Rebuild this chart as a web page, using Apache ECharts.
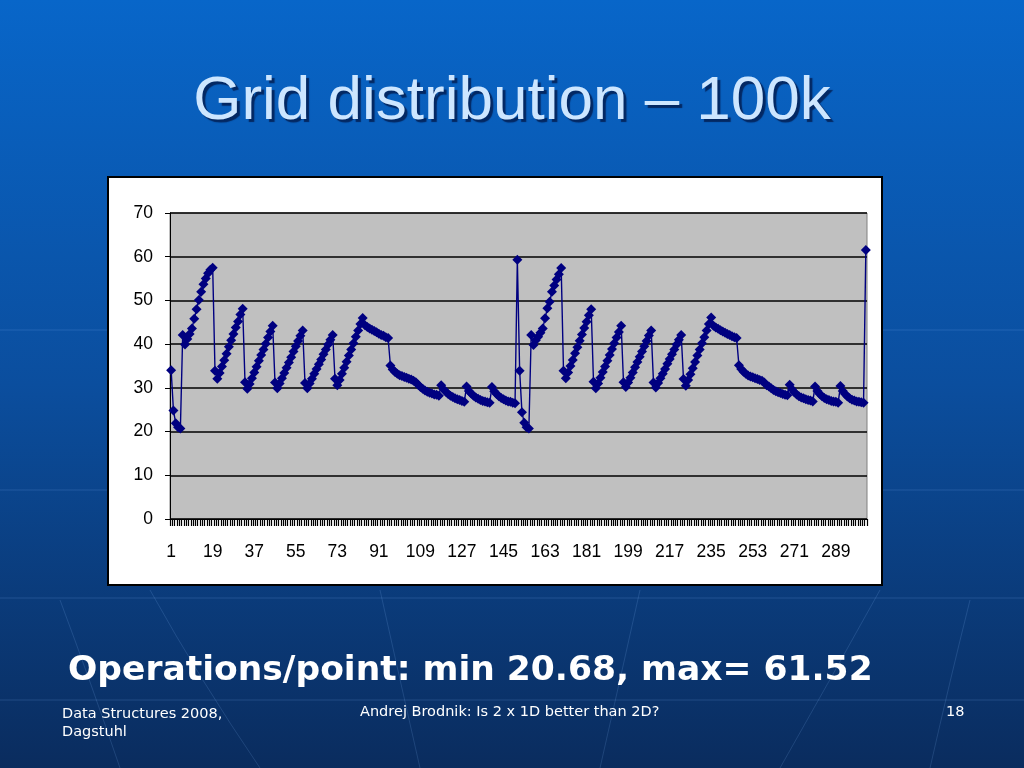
<!DOCTYPE html>
<html>
<head>
<meta charset="utf-8">
<script src="https://cdn.jsdelivr.net/npm/echarts@6/dist/echarts.min.js"></script>
<style>
  html, body { margin: 0; padding: 0; width: 1024px; height: 768px; overflow: hidden; }
  #chart { width: 1024px; height: 768px; }
</style>
</head>
<body>
<div id="chart"></div>
<script>
// ---- data ----
// first run: points 1..151 (the last one is the spike)
var firstRun = [
  34, 24.8, 21.9, 21, 20.68,
  42.1, 39.9, 41.2, 42.3, 43.6, 45.8, 48, 50.1, 52, 53.7, 55, 56.2, 57, 57.5,
  33.9, 32.1, 33.4, 34.9, 36.3, 37.8, 39.4, 40.9, 42.3, 43.8, 45.2, 46.8, 48.1,
  31.3, 29.8, 30.9, 32.2, 33.5, 34.8, 36.2, 37.5, 38.8, 40.1, 41.5, 42.9, 44.2,
  31.2, 29.9, 31, 32.2, 33.4, 34.6, 35.8, 37, 38.3, 39.5, 40.7, 41.9, 43.1,
  31.1, 29.9, 31, 32.1, 33.2, 34.3, 35.4, 36.5, 37.7, 38.8, 39.9, 41, 42.1,
  32.1, 30.6, 31.8, 33.2, 34.6, 36, 37.4, 38.8, 40.2, 41.7, 43.1, 44.6, 46,
  44.3, 43.9, 43.6, 43.3, 43, 42.7, 42.4, 42.1, 41.9, 41.6, 41.4,
  35.1, 34.2, 33.6, 33.2, 32.9, 32.7, 32.5, 32.3, 32.1, 31.9, 31.6,
  31.3, 30.7, 30.2, 29.8, 29.4, 29.1, 28.9, 28.7, 28.5, 28.4, 28.2,
  30.6, 29.7, 29.1, 28.6, 28.2, 27.9, 27.6, 27.4, 27.2, 27, 26.8,
  30.3, 29.3, 28.7, 28.2, 27.8, 27.5, 27.2, 27, 26.9, 26.7, 26.6,
  30.2, 29.2, 28.6, 28.1, 27.7, 27.4, 27.1, 26.9, 26.8, 26.6, 26.5,
  59.3
];
// second run: points 152..302 (the last one is the maximum)
var secondRun = [
  33.9, 24.4, 22, 21, 20.7,
  42.1, 39.8, 40.9, 41.7, 42.6, 43.6, 45.9, 48.2, 49.7, 52, 53.4, 54.8, 56, 57.4,
  33.9, 32.2, 33.5, 35, 36.4, 37.9, 39.3, 40.8, 42.2, 43.7, 45.1, 46.6, 48,
  31.4, 29.9, 31, 32.3, 33.6, 34.9, 36.2, 37.5, 38.9, 40.2, 41.5, 42.8, 44.2,
  31.3, 30.2, 31.2, 32.3, 33.5, 34.7, 35.9, 37.1, 38.3, 39.5, 40.7, 42, 43.1,
  31.2, 30.1, 31.1, 32.2, 33.2, 34.3, 35.5, 36.6, 37.7, 38.8, 39.9, 41, 42.1,
  32, 30.5, 31.8, 33.1, 34.5, 35.9, 37.4, 38.8, 40.2, 41.6, 43.1, 44.6, 46.1,
  44.2, 43.8, 43.5, 43.2, 42.9, 42.6, 42.3, 42.1, 41.8, 41.6, 41.4,
  35.2, 34.3, 33.7, 33.2, 32.8, 32.6, 32.4, 32.2, 32, 31.8, 31.6,
  31.2, 30.6, 30.3, 29.9, 29.5, 29.2, 29, 28.8, 28.6, 28.4, 28.3,
  30.7, 29.7, 29, 28.5, 28.1, 27.8, 27.6, 27.4, 27.2, 27.1, 26.9,
  30.3, 29.3, 28.6, 28.1, 27.7, 27.4, 27.2, 27, 26.9, 26.8, 26.6,
  30.4, 29.3, 28.6, 28, 27.6, 27.3, 27.1, 26.9, 26.8, 26.7, 26.6,
  61.52
];
var yTicks = [0, 10, 20, 30, 40, 50, 60, 70];
var labelStep = 18;

var titleText = 'Grid distribution \u2013 100k';
var summaryText = 'Operations/point: min 20.68, max= 61.52';
var footerLeft1 = 'Data Structures 2008,';
var footerLeft2 = 'Dagstuhl';
var footerCenter = 'Andrej Brodnik: Is 2 x 1D better than 2D?';
var footerRight = '18';

// ---- build ----
var values = firstRun.concat(secondRun);
var categories = [];
for (var i = 0; i < values.length; i++) categories.push(String(i + 1));

var chart = echarts.init(document.getElementById('chart'), null, { renderer: 'canvas' });

var bgLines = [];
function faintLine(x1, y1, x2, y2) {
  bgLines.push({ type: 'line', silent: true, z: -10,
    shape: { x1: x1, y1: y1, x2: x2, y2: y2 },
    style: { stroke: 'rgba(140,190,255,0.18)', lineWidth: 1 } });
}
function faintCurve(x1, y1, cx, cy, x2, y2) {
  bgLines.push({ type: 'bezierCurve', silent: true, z: -10,
    shape: { x1: x1, y1: y1, cpx1: cx, cpy1: cy, x2: x2, y2: y2 },
    style: { stroke: 'rgba(140,190,255,0.16)', lineWidth: 1, fill: null } });
}
faintLine(0, 330, 1024, 330);
faintLine(0, 490, 1024, 490);
faintLine(0, 598, 1024, 598);
faintLine(0, 700, 1024, 700);
faintCurve(150, 590, 200, 680, 260, 768);
faintCurve(380, 590, 400, 680, 420, 768);
faintCurve(640, 590, 620, 680, 600, 768);
faintCurve(880, 590, 830, 680, 780, 768);
faintCurve(60, 600, 90, 680, 120, 768);
faintCurve(970, 600, 950, 680, 930, 768);

var option = {
  animation: false,
  backgroundColor: {
    type: 'linear', x: 0, y: 0, x2: 0, y2: 1,
    colorStops: [
      { offset: 0, color: '#0866C9' },
      { offset: 0.5, color: '#0B4E9E' },
      { offset: 1, color: '#0A2C5E' }
    ]
  },
  graphic: bgLines.concat([
    { type: 'rect', z: -5, silent: true,
      shape: { x: 108, y: 177, width: 774, height: 408 },
      style: { fill: '#FFFFFF', stroke: '#000000', lineWidth: 2 } },
    { type: 'text', left: 'center', top: 71,
      style: { text: titleText, fill: '#CDE6FF', font: '62px "Liberation Sans", Arial, sans-serif',
        textShadowColor: 'rgba(0,10,50,0.65)', textShadowOffsetX: 3, textShadowOffsetY: 3, textShadowBlur: 1 } },
    { type: 'text', x: 68, y: 654,
      style: { text: summaryText, fill: '#FFFFFF', font: 'bold 34.5px "DejaVu Sans", Verdana, sans-serif' } },
    { type: 'text', x: 62, y: 705,
      style: { text: footerLeft1 + '\n' + footerLeft2, fill: '#FFFFFF', font: '14.5px "DejaVu Sans", Verdana, sans-serif', lineHeight: 18 } },
    { type: 'text', x: 360, y: 705,
      style: { text: footerCenter, fill: '#FFFFFF', font: '14.5px "DejaVu Sans", Verdana, sans-serif' } },
    { type: 'text', x: 946, y: 705,
      style: { text: footerRight, fill: '#FFFFFF', font: '14.5px "DejaVu Sans", Verdana, sans-serif' } }
  ]),
  grid: {
    left: 170, right: 157, top: 213, bottom: 249,
    show: true, backgroundColor: '#C0C0C0', borderColor: '#808080', borderWidth: 1
  },
  xAxis: {
    type: 'category',
    data: categories,
    boundaryGap: true,
    axisLine: { show: true, lineStyle: { color: '#000000', width: 1 } },
    axisTick: { show: true, interval: 0, length: 7, lineStyle: { color: '#000000', width: 1.2 } },
    axisLabel: {
      interval: labelStep - 1, margin: 24, color: '#000000', fontSize: 17.5,
      fontFamily: '"Liberation Sans", Arial, sans-serif'
    },
    splitLine: { show: false }
  },
  yAxis: {
    type: 'value',
    min: yTicks[0], max: yTicks[yTicks.length - 1], interval: yTicks[1] - yTicks[0],
    axisLine: { show: true, lineStyle: { color: '#000000', width: 1 } },
    axisTick: { show: true, length: 5, lineStyle: { color: '#000000' } },
    axisLabel: { margin: 17, color: '#000000', fontSize: 17.5, fontFamily: '"Liberation Sans", Arial, sans-serif' },
    splitLine: { show: true, lineStyle: { color: '#000000', width: 1.6 } }
  },
  series: [{
    type: 'line',
    data: values,
    showAllSymbol: true,
    symbol: 'diamond',
    symbolSize: 10,
    itemStyle: { color: '#000080' },
    lineStyle: { color: '#000080', width: 1.4 },
    z: 5
  }]
};
chart.setOption(option);
</script>
</body>
</html>
